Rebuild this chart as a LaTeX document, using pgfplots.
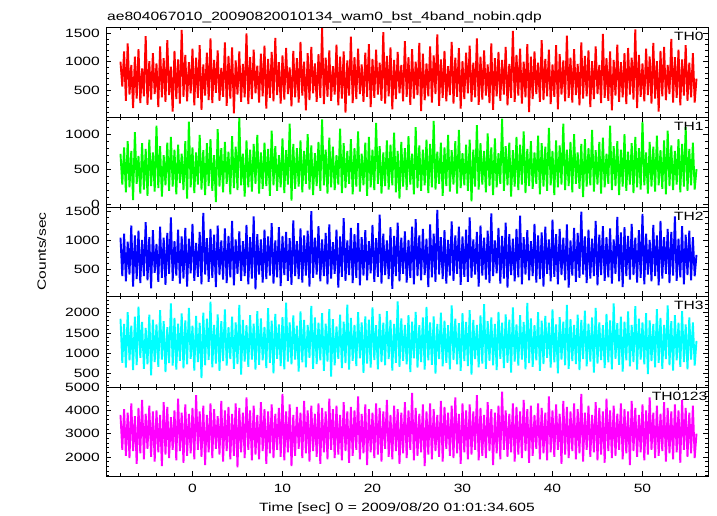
\documentclass[border=0pt]{standalone}
\usepackage{fontspec}
\setmainfont{Liberation Sans}[FakeStretch=1.3]
\usepackage{pgfplots}
\usepackage{pgfplotstable}
\pgfplotsset{compat=1.18}
\newcommand\lf{\fontsize{12bp}{14bp}\selectfont}
\definecolor{cR}{RGB}{255,0,0}
\definecolor{cG}{RGB}{0,255,0}
\definecolor{cB}{RGB}{0,0,255}
\definecolor{cC}{RGB}{0,255,255}
\definecolor{cM}{RGB}{255,0,255}
% rows every 0.2 s from t=-8 ; columns TH0 TH1 TH2 TH3 TH0123
\pgfplotstableread[row sep=\\]{
r g b c m\\
1000 720 1050 1850 3800\\ 560 280 380 760 2300\\ 1180 810 1120 1720 4050\\ 310 170 290 640 2050\\ 1320 900 980 2010 3900\\
420 240 410 820 1950\\ 940 760 1260 1680 4300\\ 180 60 200 580 2250\\ 1090 1030 1090 1900 3750\\ 350 290 330 700 1700\\
1220 690 1170 2150 4100\\ 270 150 260 880 2150\\ 880 870 1010 1770 4450\\ 390 210 380 610 1900\\ 1450 790 1320 1620 3850\\
240 120 310 720 2350\\ 1010 920 1060 1950 4200\\ 330 260 170 450 2000\\ 1150 740 1180 1830 3950\\ 430 180 440 780 1800\\
970 1120 940 1710 4000\\ 200 230 280 660 2200\\ 1270 830 1240 2060 3800\\ 370 110 350 840 1600\\ 1060 700 1050 1790 4350\\
290 270 230 530 2100\\ 1380 880 1130 1640 4150\\ 410 190 420 750 1950\\ 910 960 1400 2230 3700\\ 120 250 300 690 2300\\
1190 780 990 1870 4000\\ 340 140 390 590 1850\\ 1040 850 1190 1730 4500\\ 260 300 250 810 2250\\ 1560 720 1070 1980 3900\\
380 200 340 620 1750\\ 1120 900 1220 1810 4250\\ 300 80 200 720 2050\\ 990 1180 1030 2120 3850\\ 440 240 430 860 2150\\
1230 810 1290 1680 4100\\ 230 160 300 570 1900\\ 1070 740 960 1920 4650\\ 360 280 370 780 2300\\ 1290 990 1150 1750 3950\\
150 210 240 380 2000\\ 950 770 1480 2000 4200\\ 400 130 410 700 1650\\ 1160 870 1040 1850 3800\\ 320 260 280 830 2200\\
1410 930 1200 2270 4300\\ 270 190 350 650 1950\\ 1030 700 1100 1700 4050\\ 450 30 190 740 2350\\ 1200 1070 1260 1960 3750\\
310 250 400 560 2100\\ 890 800 1000 1790 4400\\ 380 170 320 800 1800\\ 1340 890 1210 2080 4000\\ 220 290 260 690 2250\\
1100 750 1080 1640 4150\\ 350 140 360 850 1900\\ 1250 970 1340 1900 3850\\ 90 230 220 610 2050\\ 1020 820 1020 1760 4300\\
420 200 420 730 1550\\ 1180 1230 1160 2190 4100\\ 290 270 300 470 2200\\ 960 720 990 1820 3900\\ 370 110 380 790 1950\\
1500 910 1270 1690 4550\\ 250 240 240 660 2300\\ 1080 780 1060 1940 4000\\ 340 180 340 840 1850\\ 1210 860 1420 1730 4200\\
440 290 150 590 2100\\ 930 990 1110 2040 3800\\ 280 150 410 710 1900\\ 1140 740 1020 1860 4350\\ 390 220 270 820 2250\\
1280 880 1190 1650 4050\\ 170 260 330 630 1700\\ 1050 790 1070 2110 3950\\ 360 120 390 760 2150\\ 1170 1050 1300 1800 4250\\
300 270 250 500 1950\\ 1420 830 1000 1970 3850\\ 410 190 360 860 2300\\ 990 700 1230 1710 4100\\ 260 240 210 680 2000\\
1110 940 1080 1890 4700\\ 330 160 400 600 1850\\ 1240 770 1150 2250 3950\\ 430 280 300 790 2200\\ 900 1150 1040 1760 4250\\
210 50 230 720 1600\\ 1190 860 1350 1930 3800\\ 370 220 380 840 2050\\ 1060 800 990 1680 4150\\ 280 250 330 540 2350\\
1350 910 1210 2030 3900\\ 400 170 270 770 1950\\ 1000 760 1090 1820 4400\\ 140 290 390 650 2150\\ 1150 1000 1170 1700 4000\\
320 210 200 880 1800\\ 1260 840 1510 2170 4200\\ 440 130 350 610 2250\\ 970 730 1050 1880 3850\\ 290 260 410 730 2000\\
1130 890 1250 1750 4300\\ 360 190 290 820 1700\\ 1590 1210 1020 1990 4100\\ 250 270 380 560 2200\\ 1070 780 1130 1730 3950\\
380 150 240 790 1900\\ 1200 950 1280 2090 4500\\ 310 240 340 420 2300\\ 920 820 970 1840 4050\\ 420 200 420 700 1950\\
1300 700 1190 1660 4200\\ 230 280 180 860 2100\\ 1090 1080 1070 1950 3800\\ 350 160 370 630 1850\\ 1180 870 1390 1780 4350\\
100 230 300 750 2250\\ 1020 760 1000 2200 3950\\ 400 290 400 590 1750\\ 1440 930 1220 1870 4150\\ 270 140 260 810 2050\\
1080 800 1110 1700 4000\\ 340 250 350 680 2300\\ 1230 1040 1300 2010 4600\\ 430 180 220 870 1900\\ 950 720 1060 1760 3850\\
290 270 390 510 2150\\ 1160 880 1180 1910 4250\\ 380 120 310 740 1650\\ 1310 960 990 1830 4050\\ 200 240 430 640 2200\\
1050 780 1270 2130 3900\\ 360 200 280 830 1950\\ 1210 1160 1040 1690 4300\\ 420 290 370 600 2100\\ 980 830 1450 1970 4100\\
310 150 250 780 1800\\ 1520 740 1120 1750 3950\\ 260 260 400 700 2350\\ 1100 910 1000 2040 4450\\ 390 210 330 850 2000\\
1250 850 1230 1820 3800\\ 160 270 160 570 1900\\ 1030 1020 1080 1720 4200\\ 340 170 380 760 2250\\ 1170 760 1310 2280 4050\\
440 80 290 660 1700\\ 940 890 1050 1860 3900\\ 300 250 420 810 2150\\ 1360 800 1160 1700 4350\\ 380 200 270 720 1950\\
1080 970 1010 1940 4000\\ 240 280 350 530 2300\\ 1220 720 1240 1780 4750\\ 350 140 240 870 1850\\ 1000 1100 1370 2020 4100\\
410 230 380 640 2050\\ 1330 840 1090 1690 3850\\ 130 190 310 780 2200\\ 1140 780 1200 1880 4250\\ 320 270 400 590 1600\\
970 920 1030 2140 3950\\ 390 160 190 820 2100\\ 1270 860 1280 1760 4300\\ 280 240 360 710 1900\\ 1110 1190 1120 1910 4050\\
430 210 280 490 2250\\ 1480 750 1530 1720 3800\\ 220 290 410 850 2000\\ 1040 880 1060 2000 4400\\ 360 120 330 670 1800\\
1190 810 1180 1800 4150\\ 300 260 250 760 2350\\ 920 990 1010 1690 3900\\ 410 180 390 600 2050\\ 1350 770 1330 2180 4200\\
260 280 300 830 1950\\ 1070 900 1090 1850 4550\\ 380 150 420 720 2150\\ 1240 1060 1240 1740 3850\\ 170 230 230 560 1700\\
1010 730 1070 1990 4300\\ 340 270 370 800 2200\\ 1160 850 1190 1770 4000\\ 440 190 280 680 1900\\ 1280 920 1400 2060 4250\\
290 40 350 470 2100\\ 980 780 1020 1820 3950\\ 370 250 410 850 2300\\ 1410 1130 1150 1700 4650\\ 240 210 200 650 1850\\
1090 870 1260 1930 4100\\ 330 280 390 740 2050\\ 1200 760 1050 2210 3800\\ 400 170 320 610 1950\\ 950 1010 1170 1790 4350\\
270 260 260 810 2250\\ 1320 810 1470 1880 4050\\ 150 130 380 700 1650\\ 1060 940 1000 1720 3900\\ 390 240 430 580 2150\\
1170 730 1220 2020 4200\\ 310 290 250 860 1900\\ 1030 1220 1080 1750 4800\\ 420 190 340 630 2300\\ 1260 830 1310 1960 4000\\
230 270 180 760 2000\\ 960 880 1110 1830 3850\\ 360 110 400 520 2200\\ 1540 770 1030 2130 4300\\ 290 250 290 790 1800\\
1120 960 1200 1710 4150\\ 400 200 360 690 2100\\ 1230 850 1430 1940 3950\\ 260 280 240 840 1950\\ 1000 1040 1060 1770 4450\\
370 160 410 600 2250\\ 1310 790 1180 2240 4050\\ 110 260 310 750 1750\\ 1090 900 990 1860 4200\\ 340 220 380 660 2050\\
1180 740 1290 1690 3800\\ 430 290 270 820 2350\\ 980 980 1090 2010 4300\\ 290 140 330 560 1900\\ 1380 870 1140 1800 4100\\
320 250 200 730 2150\\ 1050 820 1240 1920 3900\\ 390 190 420 880 1850\\ 1210 1090 1020 1750 4600\\ 250 270 290 640 2200\\
950 760 1360 2080 4000\\ 380 130 370 770 2000\\ 1290 910 1110 1710 4250\\ 160 240 240 500 2300\\ 1130 840 1200 1890 3850\\
420 280 400 840 1700\\ 1020 1150 1050 1780 4400\\ 300 200 310 700 2100\\ 1460 780 1280 2190 4150\\ 360 260 180 610 1950\\
1070 890 1000 1840 3950\\ 280 170 390 800 2250\\ 1220 1000 1220 1700 4300\\ 410 290 280 730 1900\\ 960 740 1130 1950 4050\\
230 220 350 580 2150\\ 1340 860 1500 1820 4700\\ 350 100 410 850 1800\\ 1100 930 1070 2050 3900\\ 390 250 260 670 2300\\
1200 800 1190 1730 4200\\ 200 270 340 790 2000\\ 1010 1060 1030 1880 3800\\ 340 180 380 520 2200\\ 1270 770 1340 2120 4350\\
430 280 220 740 1850\\ 940 890 1100 1760 4100\\ 270 150 400 830 2100\\ 1490 950 1250 1690 3950\\ 360 240 300 630 1750\\
1060 720 1060 1970 4500\\ 310 290 360 770 2250\\ 1180 1120 1210 1810 4000\\ 140 200 250 600 1950\\ 1030 830 1020 2230 4200\\
400 260 420 860 2050\\ 1300 900 1410 1740 3850\\ 290 130 290 710 2300\\ 990 780 1140 1900 4300\\ 370 250 190 540 1900\\
1150 1000 1230 1780 4050\\ 250 190 380 820 2150\\ 1240 750 1080 2030 3950\\ 420 280 320 670 1650\\ 1070 870 1290 1700 4400\\
330 160 400 780 2250\\ 1570 960 1050 2160 4100\\ 180 240 270 590 2000\\ 1120 800 1180 1850 3800\\ 380 210 350 840 2200\\
970 1180 1460 1760 4250\\ 300 270 240 720 1850\\ 1230 740 1120 1990 4000\\ 410 150 410 480 2100\\ 1090 890 1010 1810 4550\\
260 250 290 800 2300\\ 1330 820 1270 1720 3900\\ 350 180 380 650 1950\\ 1010 980 1090 2090 4200\\ 120 270 220 760 2050\\
1190 770 1340 1870 3850\\ 390 220 340 610 2250\\ 1260 910 1060 1700 4350\\ 320 140 420 850 1800\\ 940 1050 1200 2180 4100\\
430 260 260 700 2150\\ 1400 840 1150 1790 3950\\ 280 200 390 570 1900\\ 1080 760 1420 1940 4250\\ 360 280 300 820 2200\\
1210 930 1030 1750 4000\\ 230 170 360 660 1750\\ 1040 860 1250 2040 4450\\ 400 250 240 780 2300\\ 1290 1100 1100 1710 4100\\
310 190 400 600 2000\\ 980 790 1170 1880 3900\\ 370 270 310 840 2150\\ 1150 880 1060 1760 4200\\ 280 210 380 690 1950\\
700 500 750 1300 3000\\
}\lcdata

\pgfplotsset{
  panel/.style={
    scale only axis, width=602bp, anchor=north west,
    xmin=-9.61, xmax=57.28,
    xtick={0,10,20,30,40,50}, minor xtick={-8,-6,...,56},
    tick align=inside, tick pos=both,
    major tick length=5bp, minor tick length=3bp,
    tick style={black, line width=0.6bp},
    axis line style={black, line width=0.8bp},
    axis on top, clip mode=individual,
    tick label style={font=\lf},
    label style={font=\lf},
    yticklabel style={inner sep=0pt, anchor=east, xshift=-6bp},
    xticklabel style={inner sep=0pt, anchor=north, yshift=-8bp},
    /pgf/number format/assume math mode=true,
    /pgf/number format/1000 sep={},
    scaled y ticks=false,
  },
  trace/.style={line width=1.9bp, line join=bevel, mark=none},
}
\tikzset{plab/.style={inner sep=0pt, font=\lf, yshift=-4.7bp}}

\begin{document}
\lf
\begin{tikzpicture}
\path[use as bounding box] (0,0) rectangle (717bp,516bp);

% TH0
\begin{axis}[panel, at={(106bp,489bp)}, height=90bp,
  ymin=24, ymax=1611, ytick={500,1000,1500}, minor ytick={100,200,...,1600},
  xticklabels={}]
\addplot[trace, color=cR] table[x expr=\coordindex*0.2-8, y=r] {\lcdata};
\node[plab, anchor=north west] at (axis description cs:0.9435,1) {TH0};
\node[inner sep=0pt, font=\lf, anchor=base west, xshift=1bp, yshift=6.3bp] at (axis description cs:0,1) {ae804067010\_20090820010134\_wam0\_bst\_4band\_nobin.qdp};
\end{axis}

% TH1
\begin{axis}[panel, at={(106bp,399bp)}, height=90bp,
  ymin=-40, ymax=1245, ytick={0,500,1000}, minor ytick={100,200,...,1200},
  xticklabels={}]
\addplot[trace, color=cG] table[x expr=\coordindex*0.2-8, y=g] {\lcdata};
\node[plab, anchor=north west] at (axis description cs:0.9435,1) {TH1};
\end{axis}

% TH2
\begin{axis}[panel, at={(106bp,309bp)}, height=89bp,
  ymin=36, ymax=1582, ytick={500,1000,1500}, minor ytick={100,200,...,1500},
  xticklabels={}]
\addplot[trace, color=cB] table[x expr=\coordindex*0.2-8, y=b] {\lcdata};
\node[plab, anchor=north west] at (axis description cs:0.9435,1) {TH2};
\node[inner sep=0pt, font=\lf, rotate=90, anchor=center] at (axis description cs:-0.1071,0.5) {Counts/sec};
\end{axis}

% TH3
\begin{axis}[panel, at={(106bp,220bp)}, height=91bp,
  ymin=161, ymax=2413, ytick={500,1000,1500,2000}, minor ytick={200,300,...,2400},
  xticklabels={}]
\addplot[trace, color=cC] table[x expr=\coordindex*0.2-8, y=c] {\lcdata};
\node[plab, anchor=north west] at (axis description cs:0.9435,1) {TH3};
\end{axis}

% TH0123
\begin{axis}[panel, at={(106bp,129bp)}, height=89bp,
  ymin=1180, ymax=5000, ytick={2000,3000,4000,5000}, minor ytick={1200,1400,...,4800},
  xlabel={Time [sec] 0 = 2009/08/20 01:01:34.605},
  xlabel style={at={(axis description cs:0.4834,0)}, anchor=base, inner sep=0pt, yshift=-35bp}]
\addplot[trace, color=cM] table[x expr=\coordindex*0.2-8, y=m] {\lcdata};
\node[plab, anchor=north east] at (axis description cs:0.9992,1) {TH0123};
\end{axis}
\end{tikzpicture}
\end{document}
